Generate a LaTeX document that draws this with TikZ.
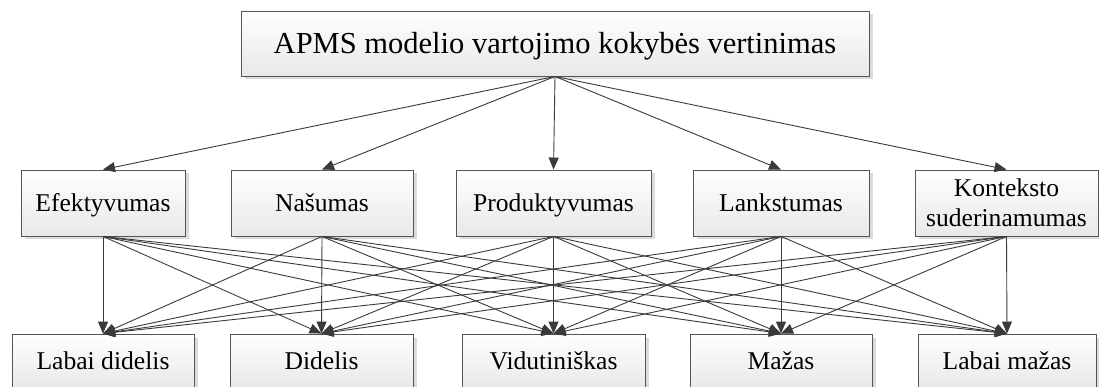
\documentclass[tikz,border=0pt]{standalone}
\usepackage{fontspec}
\setmainfont{Liberation Serif}
\usetikzlibrary{arrows.meta,shadows}
\definecolor{boxline}{HTML}{555555}
\definecolor{lineclr}{HTML}{3a3a3a}
\begin{document}
\begin{tikzpicture}[x=1pt,y=-1pt,
  box/.style={draw=boxline, line width=0.9pt, top color=white, bottom color=black!9,
    rectangle, inner sep=0pt, align=center, font=\fontsize{25.6}{30}\selectfont,
    drop shadow={shadow xshift=3.5pt, shadow yshift=-3.5pt, fill=black!14, opacity=1}},
  oneline/.style={text height=19pt, text depth=2pt},
  midbox/.style={box, minimum height=66pt},
  lowbox/.style={box, oneline, minimum height=54pt},
  conn/.style={draw=lineclr, line width=0.9pt, -{Triangle[length=12pt,width=10pt]}}]
\useasboundingbox (0,0) rectangle (1099,387);
\clip (0,0) rectangle (1099,387);
\node[box, minimum width=628pt, minimum height=65pt, text height=22pt, text depth=2pt, font=\fontsize{30.5}{36}\selectfont] (top) at (555,43.5) {APMS modelio vartojimo kokybės vertinimas};
\node[midbox, oneline, minimum width=164pt] (m1) at (103,203) {Efektyvumas};
\node[midbox, oneline, minimum width=182pt] (m2) at (322,203) {Našumas};
\node[midbox, oneline, minimum width=195pt] (m3) at (553.5,203) {Produktyvumas};
\node[midbox, oneline, minimum width=176pt] (m4) at (781,203) {Lankstumas};
\node[midbox, minimum width=183pt] (m5) at (1006.5,203) {Konteksto\\suderinamumas};
\node[lowbox, minimum width=182pt] (b1) at (103,361) {Labai didelis};
\node[lowbox, minimum width=183pt] (b2) at (321.5,361) {Didelis};
\node[lowbox, minimum width=183pt] (b3) at (553.5,361) {Vidutiniškas};
\node[lowbox, minimum width=182pt] (b4) at (781,361) {Mažas};
\node[lowbox, minimum width=178pt] (b5) at (1007,361) {Labai mažas};
\foreach \i in {1,...,5} \draw[conn] (top.south) -- (m\i.north);
\foreach \i in {1,...,5} {\foreach \j in {1,...,5} {\draw[conn] (m\i.south) -- (b\j.north);}}
\end{tikzpicture}
\end{document}
